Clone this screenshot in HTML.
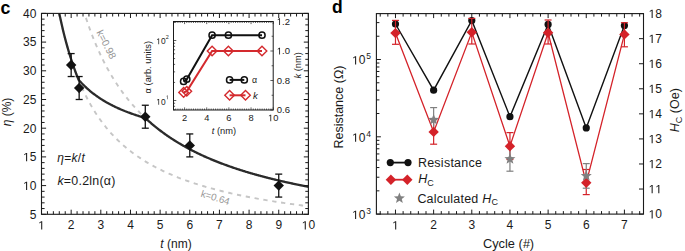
<!DOCTYPE html>
<html><head><meta charset="utf-8"><style>
html,body{margin:0;padding:0;background:#fff;}
svg{display:block;font-family:"Liberation Sans", sans-serif;}
</style></head><body>
<svg width="685" height="251" viewBox="0 0 685 251">
<rect width="685" height="251" fill="#fff"/>
<polyline points="84.5,13.4 85.62,16.88 86.74,20.26 87.86,23.54 88.98,26.73 90.1,29.82 91.22,32.83 92.34,35.75 93.46,38.6 94.58,41.36 95.7,44.05 96.82,46.68 97.93,49.23 99.05,51.72 100.17,54.14 101.29,56.5 102.41,58.81 103.53,61.06 104.65,63.25 105.77,65.39 106.89,67.49 108.01,69.53 109.13,71.53 110.25,73.48 111.37,75.38 112.49,77.25 113.61,79.07 114.73,80.86 115.85,82.6 116.97,84.31 118.09,85.98 119.2,87.62 120.32,89.22 121.44,90.79 122.56,92.33 123.68,93.84 124.8,95.32 125.92,96.77 127.04,98.19 128.16,99.58 129.28,100.95 130.4,102.29 131.52,103.61 132.64,104.9 133.76,106.17 134.88,107.41 136,108.63 137.12,109.84 138.24,111.02 139.36,112.17 140.48,113.31 141.59,114.43 142.71,115.53 143.83,116.61 144.95,117.68 146.07,118.72 147.19,119.75 148.31,120.76 149.43,121.75 150.55,122.73 151.67,123.7 152.79,124.64 153.91,125.58 155.03,126.49 156.15,127.4 157.27,128.29 158.39,129.16 159.51,130.03 160.63,130.88 161.75,131.71 162.87,132.54 163.98,133.35 165.1,134.15 166.22,134.94 167.34,135.72 168.46,136.49 169.58,137.24 170.7,137.99 171.82,138.72 172.94,139.45 174.06,140.16 175.18,140.87 176.3,141.56 177.42,142.25 178.54,142.93 179.66,143.59 180.78,144.25 181.9,144.9 183.02,145.54 184.14,146.18 185.26,146.8 186.37,147.42 187.49,148.03 188.61,148.63 189.73,149.22 190.85,149.81 191.97,150.39 193.09,150.96 194.21,151.53 195.33,152.08 196.45,152.64 197.57,153.18 198.69,153.72 199.81,154.25 200.93,154.78 202.05,155.29 203.17,155.81 204.29,156.32 205.41,156.82 206.53,157.31 207.65,157.8 208.76,158.29 209.88,158.77 211,159.24 212.12,159.71 213.24,160.17 214.36,160.63 215.48,161.08 216.6,161.53 217.72,161.97 218.84,162.41 219.96,162.84 221.08,163.27 222.2,163.7 223.32,164.12 224.44,164.53 225.56,164.94 226.68,165.35 227.8,165.75 228.92,166.15 230.04,166.54 231.15,166.93 232.27,167.32 233.39,167.7 234.51,168.08 235.63,168.46 236.75,168.83 237.87,169.2 238.99,169.56 240.11,169.92 241.23,170.28 242.35,170.63 243.47,170.98 244.59,171.33 245.71,171.67 246.83,172.01 247.95,172.34 249.07,172.68 250.19,173.01 251.31,173.34 252.43,173.66 253.54,173.98 254.66,174.3 255.78,174.61 256.9,174.93 258.02,175.24 259.14,175.54 260.26,175.85 261.38,176.15 262.5,176.45 263.62,176.74 264.74,177.04 265.86,177.33 266.98,177.62 268.1,177.9 269.22,178.18 270.34,178.46 271.46,178.74 272.58,179.02 273.7,179.29 274.82,179.56 275.93,179.83 277.05,180.1 278.17,180.36 279.29,180.63 280.41,180.89 281.53,181.14 282.65,181.4 283.77,181.65 284.89,181.9 286.01,182.15 287.13,182.4 288.25,182.65 289.37,182.89 290.49,183.13 291.61,183.37 292.73,183.61 293.85,183.84 294.97,184.08 296.09,184.31 297.21,184.54 298.32,184.77 299.44,185 300.56,185.22 301.68,185.44 302.8,185.67 303.92,185.89 305.04,186.1 306.16,186.32 307.28,186.53 308.4,186.75" fill="none" stroke="#c6c6c6" stroke-width="1.9" stroke-dasharray="4.3 4.660000000000001" stroke-dashoffset="4.22"/>
<polyline points="59.29,13.4 60.54,19.27 61.78,24.85 63.03,30.16 64.28,35.22 65.52,40.04 66.77,44.64 68.01,49.04 69.26,53.25 70.5,57.28 71.75,61.14 72.99,64.84 74.24,68.4 75.49,71.82 76.73,75.1 77.98,78.26 79.22,81.31 80.47,84.24 81.71,87.07 82.96,89.81 84.2,92.44 85.45,94.99 86.7,97.45 87.94,99.84 89.19,102.14 90.43,104.37 91.68,106.54 92.92,108.63 94.17,110.67 95.41,112.64 96.66,114.55 97.9,116.41 99.15,118.22 100.4,119.97 101.64,121.68 102.89,123.34 104.13,124.95 105.38,126.53 106.62,128.06 107.87,129.55 109.11,131 110.36,132.42 111.61,133.8 112.85,135.14 114.1,136.46 115.34,137.74 116.59,138.99 117.83,140.21 119.08,141.41 120.32,142.57 121.57,143.71 122.82,144.83 124.06,145.92 125.31,146.98 126.55,148.03 127.8,149.05 129.04,150.04 130.29,151.02 131.53,151.98 132.78,152.92 134.03,153.83 135.27,154.73 136.52,155.62 137.76,156.48 139.01,157.33 140.25,158.16 141.5,158.97 142.74,159.77 143.99,160.56 145.24,161.33 146.48,162.08 147.73,162.83 148.97,163.55 150.22,164.27 151.46,164.97 152.71,165.66 153.95,166.34 155.2,167 156.44,167.66 157.69,168.3 158.94,168.94 160.18,169.56 161.43,170.17 162.67,170.77 163.92,171.36 165.16,171.94 166.41,172.52 167.65,173.08 168.9,173.63 170.15,174.18 171.39,174.72 172.64,175.25 173.88,175.77 175.13,176.28 176.37,176.79 177.62,177.28 178.86,177.77 180.11,178.26 181.36,178.73 182.6,179.2 183.85,179.66 185.09,180.12 186.34,180.57 187.58,181.01 188.83,181.45 190.07,181.88 191.32,182.3 192.57,182.72 193.81,183.13 195.06,183.54 196.3,183.94 197.55,184.34 198.79,184.73 200.04,185.11 201.28,185.49 202.53,185.87 203.78,186.24 205.02,186.6 206.27,186.97 207.51,187.32 208.76,187.67 210,188.02 211.25,188.37 212.49,188.7 213.74,189.04 214.98,189.37 216.23,189.7 217.48,190.02 218.72,190.34 219.97,190.65 221.21,190.97 222.46,191.27 223.7,191.58 224.95,191.88 226.19,192.18 227.44,192.47 228.69,192.76 229.93,193.05 231.18,193.33 232.42,193.61 233.67,193.89 234.91,194.16 236.16,194.43 237.4,194.7 238.65,194.97 239.9,195.23 241.14,195.49 242.39,195.75 243.63,196 244.88,196.25 246.12,196.5 247.37,196.74 248.61,196.99 249.86,197.23 251.11,197.47 252.35,197.7 253.6,197.94 254.84,198.17 256.09,198.4 257.33,198.62 258.58,198.85 259.82,199.07 261.07,199.29 262.32,199.5 263.56,199.72 264.81,199.93 266.05,200.14 267.3,200.35 268.54,200.56 269.79,200.77 271.03,200.97 272.28,201.17 273.53,201.37 274.77,201.57 276.02,201.76 277.26,201.95 278.51,202.15 279.75,202.34 281,202.52 282.24,202.71 283.49,202.9 284.73,203.08 285.98,203.26 287.23,203.44 288.47,203.62 289.72,203.79 290.96,203.97 292.21,204.14 293.45,204.31 294.7,204.48 295.94,204.65 297.19,204.82 298.44,204.99 299.68,205.15 300.93,205.31 302.17,205.48 303.42,205.64 304.66,205.8 305.91,205.95 307.15,206.11 308.4,206.26" fill="none" stroke="#c6c6c6" stroke-width="1.9" stroke-dasharray="4.3 4.660000000000001" stroke-dashoffset="3.24"/>
<polyline points="59.29,13.4 59.92,16.37 60.54,19.27 61.16,22.1 61.78,24.85 62.41,27.54 63.03,30.16 63.65,32.72 64.28,35.22 64.9,37.66 65.52,40.04 66.14,42.37 66.77,44.64 67.39,46.87 68.01,49.04 68.63,51.17 69.26,53.25 69.88,55.28 70.5,57.28 71.13,59.23 71.75,61.14 72.37,63.01 72.99,64.84 73.62,66.64 74.24,68.4 74.86,70.12 75.49,71.82 76.11,73.48 76.73,75.1 77.35,76.7 77.98,78.26 78.6,79.76 79.22,80.47 79.84,81.16 80.47,81.85 81.09,82.51 81.71,83.17 82.34,83.82 82.96,84.45 83.58,85.08 84.2,85.69 84.83,86.29 85.45,86.88 86.07,87.46 86.7,88.04 87.32,88.6 87.94,89.15 88.56,89.7 89.19,90.23 89.81,90.76 90.43,91.28 91.05,91.79 91.68,92.29 92.3,92.79 92.92,93.28 93.55,93.76 94.17,94.23 94.79,94.7 95.41,95.16 96.04,95.61 96.66,96.05 97.28,96.49 97.9,96.92 98.53,97.35 99.15,97.77 99.77,98.18 100.4,98.59 101.02,99 101.64,99.39 102.26,99.78 102.89,100.17 103.51,100.55 104.13,100.93 104.76,101.3 105.38,101.66 106,102.03 106.62,102.38 107.25,102.73 107.87,103.08 108.49,103.42 109.11,103.76 109.74,104.1 110.36,104.43 110.98,104.75 111.61,105.07 112.23,105.39 112.85,105.7 113.47,106.01 114.1,106.32 114.72,106.62 115.34,106.92 115.97,107.22 116.59,107.51 117.21,107.8 117.83,108.08 118.46,108.36 119.08,108.64 119.7,108.92 120.32,109.19 120.95,109.46 121.57,109.72 122.19,109.98 122.82,110.24 123.44,110.5 124.06,110.75 124.68,111.01 125.31,111.25 125.93,111.5 126.55,111.74 127.17,111.98 127.8,112.22 128.42,112.46 129.04,112.69 129.67,112.92 130.29,113.15 130.91,113.37 131.53,113.6 132.16,113.82 132.78,114.04 133.4,114.25 134.03,114.47 134.65,114.68 135.27,114.89 135.89,115.1 136.52,115.3 137.14,115.5 137.76,115.71 138.38,115.91 139.01,116.1 139.63,116.3 140.25,116.49 140.88,116.69 141.5,116.88 142.12,117.06 142.74,117.25 143.37,117.43 143.99,117.62 144.61,117.8 145.24,117.98 145.86,118.52 146.48,119.1 147.1,119.67 147.73,120.23 148.35,120.79 148.97,121.35 149.59,121.9 150.22,122.44 150.84,122.98 151.46,123.52 152.09,124.05 152.71,124.57 153.33,125.1 153.95,125.61 154.58,126.12 155.2,126.63 155.82,127.14 156.44,127.63 157.07,128.13 157.69,128.62 158.31,129.11 158.94,129.59 159.56,130.07 160.18,130.54 160.8,131.01 161.43,131.48 162.05,131.94 162.67,132.4 163.3,132.85 163.92,133.3 164.54,133.75 165.16,134.2 165.79,134.64 166.41,135.07 167.03,135.51 167.65,135.93 168.28,136.36 168.9,136.78 169.52,137.2 170.15,137.62 170.77,138.03 171.39,138.44 172.01,138.85 172.64,139.25 173.26,139.65 173.88,140.05 174.51,140.44 175.13,140.84 175.75,141.22 176.37,141.61 177,141.99 177.62,142.37 178.24,142.75 178.86,143.12 179.49,143.49 180.11,143.86 180.73,144.23 181.36,144.59 181.98,144.95 182.6,145.31 183.22,145.66 183.85,146.01 184.47,146.36 185.09,146.71 185.71,147.06 186.34,147.4 186.96,147.74 187.58,148.08 188.21,148.41 188.83,148.74 189.45,149.07 190.07,149.4 190.7,149.73 191.32,150.05 191.94,150.37 192.57,150.69 193.19,151.01 193.81,151.32 194.43,151.64 195.06,151.95 195.68,152.26 196.3,152.56 196.92,152.87 197.55,153.17 198.17,153.47 198.79,153.77 199.42,154.06 200.04,154.36 200.66,154.65 201.28,154.94 201.91,155.23 202.53,155.52 203.15,155.8 203.78,156.08 204.4,156.37 205.02,156.64 205.64,156.92 206.27,157.2 206.89,157.47 207.51,157.74 208.13,158.01 208.76,158.28 209.38,158.55 210,158.82 210.63,159.08 211.25,159.34 211.87,159.6 212.49,159.86 213.12,160.12 213.74,160.37 214.36,160.63 214.98,160.88 215.61,161.13 216.23,161.38 216.85,161.63 217.48,161.88 218.1,162.12 218.72,162.36 219.34,162.61 219.97,162.85 220.59,163.09 221.21,163.32 221.84,163.56 222.46,163.79 223.08,164.03 223.7,164.26 224.33,164.49 224.95,164.72 225.57,164.95 226.19,165.17 226.82,165.4 227.44,165.62 228.06,165.85 228.69,166.07 229.31,166.29 229.93,166.51 230.55,166.73 231.18,166.94 231.8,167.16 232.42,167.37 233.05,167.59 233.67,167.8 234.29,168.01 234.91,168.22 235.54,168.42 236.16,168.63 236.78,168.84 237.4,169.04 238.03,169.25 238.65,169.45 239.27,169.65 239.9,169.85 240.52,170.05 241.14,170.25 241.76,170.44 242.39,170.64 243.01,170.84 243.63,171.03 244.26,171.22 244.88,171.41 245.5,171.61 246.12,171.79 246.75,171.98 247.37,172.17 247.99,172.36 248.61,172.54 249.24,172.73 249.86,172.91 250.48,173.1 251.11,173.28 251.73,173.46 252.35,173.64 252.97,173.82 253.6,174 254.22,174.17 254.84,174.35 255.46,174.53 256.09,174.7 256.71,174.87 257.33,175.05 257.96,175.22 258.58,175.39 259.2,175.56 259.82,175.73 260.45,175.9 261.07,176.07 261.69,176.23 262.32,176.4 262.94,176.56 263.56,176.73 264.18,176.89 264.81,177.05 265.43,177.22 266.05,177.38 266.67,177.54 267.3,177.7 267.92,177.86 268.54,178.01 269.17,178.17 269.79,178.33 270.41,178.48 271.03,178.64 271.66,178.79 272.28,178.95 272.9,179.1 273.53,179.25 274.15,179.4 274.77,179.55 275.39,179.7 276.02,179.85 276.64,180 277.26,180.15 277.88,180.3 278.51,180.44 279.13,180.59 279.75,180.73 280.38,180.88 281,181.02 281.62,181.16 282.24,181.31 282.87,181.45 283.49,181.59 284.11,181.73 284.73,181.87 285.36,182.01 285.98,182.15 286.6,182.29 287.23,182.42 287.85,182.56 288.47,182.7 289.09,182.83 289.72,182.97 290.34,183.1 290.96,183.23 291.59,183.37 292.21,183.5 292.83,183.63 293.45,183.76 294.08,183.89 294.7,184.02 295.32,184.15 295.94,184.28 296.57,184.41 297.19,184.54 297.81,184.67 298.44,184.79 299.06,184.92 299.68,185.04 300.3,185.17 300.93,185.29 301.55,185.42 302.17,185.54 302.8,185.66 303.42,185.79 304.04,185.91 304.66,186.03 305.29,186.15 305.91,186.27 306.53,186.39 307.15,186.51 307.78,186.63 308.4,186.75" fill="none" stroke="#2b2b2b" stroke-width="2.3" stroke-linejoin="round"/>
<text x="0" y="0" font-size="10.2" text-anchor="middle" fill="#959595" transform="translate(106.4,44.4) rotate(63)" dominant-baseline="central">k=0.98</text>
<text x="0" y="0" font-size="9.8" text-anchor="middle" fill="#959595" transform="translate(215.4,197.4) rotate(17)" dominant-baseline="central">k=0.64</text>
<line x1="71.16" y1="53.58" x2="71.16" y2="76.54" stroke="#111" stroke-width="1.3" />
<line x1="67.66" y1="53.58" x2="74.66" y2="53.58" stroke="#111" stroke-width="1.3" />
<line x1="67.66" y1="76.54" x2="74.66" y2="76.54" stroke="#111" stroke-width="1.3" />
<line x1="79.16" y1="76.54" x2="79.16" y2="99.5" stroke="#111" stroke-width="1.3" />
<line x1="75.66" y1="76.54" x2="82.66" y2="76.54" stroke="#111" stroke-width="1.3" />
<line x1="75.66" y1="99.5" x2="82.66" y2="99.5" stroke="#111" stroke-width="1.3" />
<line x1="145.29" y1="105.24" x2="145.29" y2="128.2" stroke="#111" stroke-width="1.3" />
<line x1="141.79" y1="105.24" x2="148.79" y2="105.24" stroke="#111" stroke-width="1.3" />
<line x1="141.79" y1="128.2" x2="148.79" y2="128.2" stroke="#111" stroke-width="1.3" />
<line x1="189.78" y1="133.94" x2="189.78" y2="156.9" stroke="#111" stroke-width="1.3" />
<line x1="186.28" y1="133.94" x2="193.28" y2="133.94" stroke="#111" stroke-width="1.3" />
<line x1="186.28" y1="156.9" x2="193.28" y2="156.9" stroke="#111" stroke-width="1.3" />
<line x1="278.74" y1="174.12" x2="278.74" y2="197.08" stroke="#111" stroke-width="1.3" />
<line x1="275.24" y1="174.12" x2="282.24" y2="174.12" stroke="#111" stroke-width="1.3" />
<line x1="275.24" y1="197.08" x2="282.24" y2="197.08" stroke="#111" stroke-width="1.3" />
<path d="M71.16,59.86 L76.36,65.06 L71.16,70.26 L65.96,65.06 Z" fill="#111"/>
<path d="M79.16,82.82 L84.36,88.02 L79.16,93.22 L73.96,88.02 Z" fill="#111"/>
<path d="M145.29,111.52 L150.49,116.72 L145.29,121.92 L140.09,116.72 Z" fill="#111"/>
<path d="M189.78,140.22 L194.98,145.42 L189.78,150.62 L184.58,145.42 Z" fill="#111"/>
<path d="M278.74,180.4 L283.94,185.6 L278.74,190.8 L273.54,185.6 Z" fill="#111"/>
<rect x="41.5" y="13.4" width="266.9" height="200.9" fill="none" stroke="#1a1a1a" stroke-width="1.1"/>
<line x1="41.5" y1="214.3" x2="41.5" y2="209.7" stroke="#1a1a1a" stroke-width="1" />
<line x1="41.5" y1="13.4" x2="41.5" y2="18" stroke="#1a1a1a" stroke-width="1" />
<line x1="47.43" y1="214.3" x2="47.43" y2="211.2" stroke="#1a1a1a" stroke-width="1" />
<line x1="47.43" y1="13.4" x2="47.43" y2="16.5" stroke="#1a1a1a" stroke-width="1" />
<line x1="53.36" y1="214.3" x2="53.36" y2="211.2" stroke="#1a1a1a" stroke-width="1" />
<line x1="53.36" y1="13.4" x2="53.36" y2="16.5" stroke="#1a1a1a" stroke-width="1" />
<line x1="59.29" y1="214.3" x2="59.29" y2="211.2" stroke="#1a1a1a" stroke-width="1" />
<line x1="59.29" y1="13.4" x2="59.29" y2="16.5" stroke="#1a1a1a" stroke-width="1" />
<line x1="65.22" y1="214.3" x2="65.22" y2="211.2" stroke="#1a1a1a" stroke-width="1" />
<line x1="65.22" y1="13.4" x2="65.22" y2="16.5" stroke="#1a1a1a" stroke-width="1" />
<line x1="71.16" y1="214.3" x2="71.16" y2="209.7" stroke="#1a1a1a" stroke-width="1" />
<line x1="71.16" y1="13.4" x2="71.16" y2="18" stroke="#1a1a1a" stroke-width="1" />
<line x1="77.09" y1="214.3" x2="77.09" y2="211.2" stroke="#1a1a1a" stroke-width="1" />
<line x1="77.09" y1="13.4" x2="77.09" y2="16.5" stroke="#1a1a1a" stroke-width="1" />
<line x1="83.02" y1="214.3" x2="83.02" y2="211.2" stroke="#1a1a1a" stroke-width="1" />
<line x1="83.02" y1="13.4" x2="83.02" y2="16.5" stroke="#1a1a1a" stroke-width="1" />
<line x1="88.95" y1="214.3" x2="88.95" y2="211.2" stroke="#1a1a1a" stroke-width="1" />
<line x1="88.95" y1="13.4" x2="88.95" y2="16.5" stroke="#1a1a1a" stroke-width="1" />
<line x1="94.88" y1="214.3" x2="94.88" y2="211.2" stroke="#1a1a1a" stroke-width="1" />
<line x1="94.88" y1="13.4" x2="94.88" y2="16.5" stroke="#1a1a1a" stroke-width="1" />
<line x1="100.81" y1="214.3" x2="100.81" y2="209.7" stroke="#1a1a1a" stroke-width="1" />
<line x1="100.81" y1="13.4" x2="100.81" y2="18" stroke="#1a1a1a" stroke-width="1" />
<line x1="106.74" y1="214.3" x2="106.74" y2="211.2" stroke="#1a1a1a" stroke-width="1" />
<line x1="106.74" y1="13.4" x2="106.74" y2="16.5" stroke="#1a1a1a" stroke-width="1" />
<line x1="112.67" y1="214.3" x2="112.67" y2="211.2" stroke="#1a1a1a" stroke-width="1" />
<line x1="112.67" y1="13.4" x2="112.67" y2="16.5" stroke="#1a1a1a" stroke-width="1" />
<line x1="118.6" y1="214.3" x2="118.6" y2="211.2" stroke="#1a1a1a" stroke-width="1" />
<line x1="118.6" y1="13.4" x2="118.6" y2="16.5" stroke="#1a1a1a" stroke-width="1" />
<line x1="124.54" y1="214.3" x2="124.54" y2="211.2" stroke="#1a1a1a" stroke-width="1" />
<line x1="124.54" y1="13.4" x2="124.54" y2="16.5" stroke="#1a1a1a" stroke-width="1" />
<line x1="130.47" y1="214.3" x2="130.47" y2="209.7" stroke="#1a1a1a" stroke-width="1" />
<line x1="130.47" y1="13.4" x2="130.47" y2="18" stroke="#1a1a1a" stroke-width="1" />
<line x1="136.4" y1="214.3" x2="136.4" y2="211.2" stroke="#1a1a1a" stroke-width="1" />
<line x1="136.4" y1="13.4" x2="136.4" y2="16.5" stroke="#1a1a1a" stroke-width="1" />
<line x1="142.33" y1="214.3" x2="142.33" y2="211.2" stroke="#1a1a1a" stroke-width="1" />
<line x1="142.33" y1="13.4" x2="142.33" y2="16.5" stroke="#1a1a1a" stroke-width="1" />
<line x1="148.26" y1="214.3" x2="148.26" y2="211.2" stroke="#1a1a1a" stroke-width="1" />
<line x1="148.26" y1="13.4" x2="148.26" y2="16.5" stroke="#1a1a1a" stroke-width="1" />
<line x1="154.19" y1="214.3" x2="154.19" y2="211.2" stroke="#1a1a1a" stroke-width="1" />
<line x1="154.19" y1="13.4" x2="154.19" y2="16.5" stroke="#1a1a1a" stroke-width="1" />
<line x1="160.12" y1="214.3" x2="160.12" y2="209.7" stroke="#1a1a1a" stroke-width="1" />
<line x1="160.12" y1="13.4" x2="160.12" y2="18" stroke="#1a1a1a" stroke-width="1" />
<line x1="166.05" y1="214.3" x2="166.05" y2="211.2" stroke="#1a1a1a" stroke-width="1" />
<line x1="166.05" y1="13.4" x2="166.05" y2="16.5" stroke="#1a1a1a" stroke-width="1" />
<line x1="171.98" y1="214.3" x2="171.98" y2="211.2" stroke="#1a1a1a" stroke-width="1" />
<line x1="171.98" y1="13.4" x2="171.98" y2="16.5" stroke="#1a1a1a" stroke-width="1" />
<line x1="177.92" y1="214.3" x2="177.92" y2="211.2" stroke="#1a1a1a" stroke-width="1" />
<line x1="177.92" y1="13.4" x2="177.92" y2="16.5" stroke="#1a1a1a" stroke-width="1" />
<line x1="183.85" y1="214.3" x2="183.85" y2="211.2" stroke="#1a1a1a" stroke-width="1" />
<line x1="183.85" y1="13.4" x2="183.85" y2="16.5" stroke="#1a1a1a" stroke-width="1" />
<line x1="189.78" y1="214.3" x2="189.78" y2="209.7" stroke="#1a1a1a" stroke-width="1" />
<line x1="189.78" y1="13.4" x2="189.78" y2="18" stroke="#1a1a1a" stroke-width="1" />
<line x1="195.71" y1="214.3" x2="195.71" y2="211.2" stroke="#1a1a1a" stroke-width="1" />
<line x1="195.71" y1="13.4" x2="195.71" y2="16.5" stroke="#1a1a1a" stroke-width="1" />
<line x1="201.64" y1="214.3" x2="201.64" y2="211.2" stroke="#1a1a1a" stroke-width="1" />
<line x1="201.64" y1="13.4" x2="201.64" y2="16.5" stroke="#1a1a1a" stroke-width="1" />
<line x1="207.57" y1="214.3" x2="207.57" y2="211.2" stroke="#1a1a1a" stroke-width="1" />
<line x1="207.57" y1="13.4" x2="207.57" y2="16.5" stroke="#1a1a1a" stroke-width="1" />
<line x1="213.5" y1="214.3" x2="213.5" y2="211.2" stroke="#1a1a1a" stroke-width="1" />
<line x1="213.5" y1="13.4" x2="213.5" y2="16.5" stroke="#1a1a1a" stroke-width="1" />
<line x1="219.43" y1="214.3" x2="219.43" y2="209.7" stroke="#1a1a1a" stroke-width="1" />
<line x1="219.43" y1="13.4" x2="219.43" y2="18" stroke="#1a1a1a" stroke-width="1" />
<line x1="225.36" y1="214.3" x2="225.36" y2="211.2" stroke="#1a1a1a" stroke-width="1" />
<line x1="225.36" y1="13.4" x2="225.36" y2="16.5" stroke="#1a1a1a" stroke-width="1" />
<line x1="231.3" y1="214.3" x2="231.3" y2="211.2" stroke="#1a1a1a" stroke-width="1" />
<line x1="231.3" y1="13.4" x2="231.3" y2="16.5" stroke="#1a1a1a" stroke-width="1" />
<line x1="237.23" y1="214.3" x2="237.23" y2="211.2" stroke="#1a1a1a" stroke-width="1" />
<line x1="237.23" y1="13.4" x2="237.23" y2="16.5" stroke="#1a1a1a" stroke-width="1" />
<line x1="243.16" y1="214.3" x2="243.16" y2="211.2" stroke="#1a1a1a" stroke-width="1" />
<line x1="243.16" y1="13.4" x2="243.16" y2="16.5" stroke="#1a1a1a" stroke-width="1" />
<line x1="249.09" y1="214.3" x2="249.09" y2="209.7" stroke="#1a1a1a" stroke-width="1" />
<line x1="249.09" y1="13.4" x2="249.09" y2="18" stroke="#1a1a1a" stroke-width="1" />
<line x1="255.02" y1="214.3" x2="255.02" y2="211.2" stroke="#1a1a1a" stroke-width="1" />
<line x1="255.02" y1="13.4" x2="255.02" y2="16.5" stroke="#1a1a1a" stroke-width="1" />
<line x1="260.95" y1="214.3" x2="260.95" y2="211.2" stroke="#1a1a1a" stroke-width="1" />
<line x1="260.95" y1="13.4" x2="260.95" y2="16.5" stroke="#1a1a1a" stroke-width="1" />
<line x1="266.88" y1="214.3" x2="266.88" y2="211.2" stroke="#1a1a1a" stroke-width="1" />
<line x1="266.88" y1="13.4" x2="266.88" y2="16.5" stroke="#1a1a1a" stroke-width="1" />
<line x1="272.81" y1="214.3" x2="272.81" y2="211.2" stroke="#1a1a1a" stroke-width="1" />
<line x1="272.81" y1="13.4" x2="272.81" y2="16.5" stroke="#1a1a1a" stroke-width="1" />
<line x1="278.74" y1="214.3" x2="278.74" y2="209.7" stroke="#1a1a1a" stroke-width="1" />
<line x1="278.74" y1="13.4" x2="278.74" y2="18" stroke="#1a1a1a" stroke-width="1" />
<line x1="284.68" y1="214.3" x2="284.68" y2="211.2" stroke="#1a1a1a" stroke-width="1" />
<line x1="284.68" y1="13.4" x2="284.68" y2="16.5" stroke="#1a1a1a" stroke-width="1" />
<line x1="290.61" y1="214.3" x2="290.61" y2="211.2" stroke="#1a1a1a" stroke-width="1" />
<line x1="290.61" y1="13.4" x2="290.61" y2="16.5" stroke="#1a1a1a" stroke-width="1" />
<line x1="296.54" y1="214.3" x2="296.54" y2="211.2" stroke="#1a1a1a" stroke-width="1" />
<line x1="296.54" y1="13.4" x2="296.54" y2="16.5" stroke="#1a1a1a" stroke-width="1" />
<line x1="302.47" y1="214.3" x2="302.47" y2="211.2" stroke="#1a1a1a" stroke-width="1" />
<line x1="302.47" y1="13.4" x2="302.47" y2="16.5" stroke="#1a1a1a" stroke-width="1" />
<line x1="308.4" y1="214.3" x2="308.4" y2="209.7" stroke="#1a1a1a" stroke-width="1" />
<line x1="308.4" y1="13.4" x2="308.4" y2="18" stroke="#1a1a1a" stroke-width="1" />
<line x1="41.5" y1="214.3" x2="46.1" y2="214.3" stroke="#1a1a1a" stroke-width="1" />
<line x1="308.4" y1="214.3" x2="303.8" y2="214.3" stroke="#1a1a1a" stroke-width="1" />
<line x1="41.5" y1="208.56" x2="44.6" y2="208.56" stroke="#1a1a1a" stroke-width="1" />
<line x1="308.4" y1="208.56" x2="305.3" y2="208.56" stroke="#1a1a1a" stroke-width="1" />
<line x1="41.5" y1="202.82" x2="44.6" y2="202.82" stroke="#1a1a1a" stroke-width="1" />
<line x1="308.4" y1="202.82" x2="305.3" y2="202.82" stroke="#1a1a1a" stroke-width="1" />
<line x1="41.5" y1="197.08" x2="44.6" y2="197.08" stroke="#1a1a1a" stroke-width="1" />
<line x1="308.4" y1="197.08" x2="305.3" y2="197.08" stroke="#1a1a1a" stroke-width="1" />
<line x1="41.5" y1="191.34" x2="44.6" y2="191.34" stroke="#1a1a1a" stroke-width="1" />
<line x1="308.4" y1="191.34" x2="305.3" y2="191.34" stroke="#1a1a1a" stroke-width="1" />
<line x1="41.5" y1="185.6" x2="46.1" y2="185.6" stroke="#1a1a1a" stroke-width="1" />
<line x1="308.4" y1="185.6" x2="303.8" y2="185.6" stroke="#1a1a1a" stroke-width="1" />
<line x1="41.5" y1="179.86" x2="44.6" y2="179.86" stroke="#1a1a1a" stroke-width="1" />
<line x1="308.4" y1="179.86" x2="305.3" y2="179.86" stroke="#1a1a1a" stroke-width="1" />
<line x1="41.5" y1="174.12" x2="44.6" y2="174.12" stroke="#1a1a1a" stroke-width="1" />
<line x1="308.4" y1="174.12" x2="305.3" y2="174.12" stroke="#1a1a1a" stroke-width="1" />
<line x1="41.5" y1="168.38" x2="44.6" y2="168.38" stroke="#1a1a1a" stroke-width="1" />
<line x1="308.4" y1="168.38" x2="305.3" y2="168.38" stroke="#1a1a1a" stroke-width="1" />
<line x1="41.5" y1="162.64" x2="44.6" y2="162.64" stroke="#1a1a1a" stroke-width="1" />
<line x1="308.4" y1="162.64" x2="305.3" y2="162.64" stroke="#1a1a1a" stroke-width="1" />
<line x1="41.5" y1="156.9" x2="46.1" y2="156.9" stroke="#1a1a1a" stroke-width="1" />
<line x1="308.4" y1="156.9" x2="303.8" y2="156.9" stroke="#1a1a1a" stroke-width="1" />
<line x1="41.5" y1="151.16" x2="44.6" y2="151.16" stroke="#1a1a1a" stroke-width="1" />
<line x1="308.4" y1="151.16" x2="305.3" y2="151.16" stroke="#1a1a1a" stroke-width="1" />
<line x1="41.5" y1="145.42" x2="44.6" y2="145.42" stroke="#1a1a1a" stroke-width="1" />
<line x1="308.4" y1="145.42" x2="305.3" y2="145.42" stroke="#1a1a1a" stroke-width="1" />
<line x1="41.5" y1="139.68" x2="44.6" y2="139.68" stroke="#1a1a1a" stroke-width="1" />
<line x1="308.4" y1="139.68" x2="305.3" y2="139.68" stroke="#1a1a1a" stroke-width="1" />
<line x1="41.5" y1="133.94" x2="44.6" y2="133.94" stroke="#1a1a1a" stroke-width="1" />
<line x1="308.4" y1="133.94" x2="305.3" y2="133.94" stroke="#1a1a1a" stroke-width="1" />
<line x1="41.5" y1="128.2" x2="46.1" y2="128.2" stroke="#1a1a1a" stroke-width="1" />
<line x1="308.4" y1="128.2" x2="303.8" y2="128.2" stroke="#1a1a1a" stroke-width="1" />
<line x1="41.5" y1="122.46" x2="44.6" y2="122.46" stroke="#1a1a1a" stroke-width="1" />
<line x1="308.4" y1="122.46" x2="305.3" y2="122.46" stroke="#1a1a1a" stroke-width="1" />
<line x1="41.5" y1="116.72" x2="44.6" y2="116.72" stroke="#1a1a1a" stroke-width="1" />
<line x1="308.4" y1="116.72" x2="305.3" y2="116.72" stroke="#1a1a1a" stroke-width="1" />
<line x1="41.5" y1="110.98" x2="44.6" y2="110.98" stroke="#1a1a1a" stroke-width="1" />
<line x1="308.4" y1="110.98" x2="305.3" y2="110.98" stroke="#1a1a1a" stroke-width="1" />
<line x1="41.5" y1="105.24" x2="44.6" y2="105.24" stroke="#1a1a1a" stroke-width="1" />
<line x1="308.4" y1="105.24" x2="305.3" y2="105.24" stroke="#1a1a1a" stroke-width="1" />
<line x1="41.5" y1="99.5" x2="46.1" y2="99.5" stroke="#1a1a1a" stroke-width="1" />
<line x1="308.4" y1="99.5" x2="303.8" y2="99.5" stroke="#1a1a1a" stroke-width="1" />
<line x1="41.5" y1="93.76" x2="44.6" y2="93.76" stroke="#1a1a1a" stroke-width="1" />
<line x1="308.4" y1="93.76" x2="305.3" y2="93.76" stroke="#1a1a1a" stroke-width="1" />
<line x1="41.5" y1="88.02" x2="44.6" y2="88.02" stroke="#1a1a1a" stroke-width="1" />
<line x1="308.4" y1="88.02" x2="305.3" y2="88.02" stroke="#1a1a1a" stroke-width="1" />
<line x1="41.5" y1="82.28" x2="44.6" y2="82.28" stroke="#1a1a1a" stroke-width="1" />
<line x1="308.4" y1="82.28" x2="305.3" y2="82.28" stroke="#1a1a1a" stroke-width="1" />
<line x1="41.5" y1="76.54" x2="44.6" y2="76.54" stroke="#1a1a1a" stroke-width="1" />
<line x1="308.4" y1="76.54" x2="305.3" y2="76.54" stroke="#1a1a1a" stroke-width="1" />
<line x1="41.5" y1="70.8" x2="46.1" y2="70.8" stroke="#1a1a1a" stroke-width="1" />
<line x1="308.4" y1="70.8" x2="303.8" y2="70.8" stroke="#1a1a1a" stroke-width="1" />
<line x1="41.5" y1="65.06" x2="44.6" y2="65.06" stroke="#1a1a1a" stroke-width="1" />
<line x1="308.4" y1="65.06" x2="305.3" y2="65.06" stroke="#1a1a1a" stroke-width="1" />
<line x1="41.5" y1="59.32" x2="44.6" y2="59.32" stroke="#1a1a1a" stroke-width="1" />
<line x1="308.4" y1="59.32" x2="305.3" y2="59.32" stroke="#1a1a1a" stroke-width="1" />
<line x1="41.5" y1="53.58" x2="44.6" y2="53.58" stroke="#1a1a1a" stroke-width="1" />
<line x1="308.4" y1="53.58" x2="305.3" y2="53.58" stroke="#1a1a1a" stroke-width="1" />
<line x1="41.5" y1="47.84" x2="44.6" y2="47.84" stroke="#1a1a1a" stroke-width="1" />
<line x1="308.4" y1="47.84" x2="305.3" y2="47.84" stroke="#1a1a1a" stroke-width="1" />
<line x1="41.5" y1="42.1" x2="46.1" y2="42.1" stroke="#1a1a1a" stroke-width="1" />
<line x1="308.4" y1="42.1" x2="303.8" y2="42.1" stroke="#1a1a1a" stroke-width="1" />
<line x1="41.5" y1="36.36" x2="44.6" y2="36.36" stroke="#1a1a1a" stroke-width="1" />
<line x1="308.4" y1="36.36" x2="305.3" y2="36.36" stroke="#1a1a1a" stroke-width="1" />
<line x1="41.5" y1="30.62" x2="44.6" y2="30.62" stroke="#1a1a1a" stroke-width="1" />
<line x1="308.4" y1="30.62" x2="305.3" y2="30.62" stroke="#1a1a1a" stroke-width="1" />
<line x1="41.5" y1="24.88" x2="44.6" y2="24.88" stroke="#1a1a1a" stroke-width="1" />
<line x1="308.4" y1="24.88" x2="305.3" y2="24.88" stroke="#1a1a1a" stroke-width="1" />
<line x1="41.5" y1="19.14" x2="44.6" y2="19.14" stroke="#1a1a1a" stroke-width="1" />
<line x1="308.4" y1="19.14" x2="305.3" y2="19.14" stroke="#1a1a1a" stroke-width="1" />
<line x1="41.5" y1="13.4" x2="46.1" y2="13.4" stroke="#1a1a1a" stroke-width="1" />
<line x1="308.4" y1="13.4" x2="303.8" y2="13.4" stroke="#1a1a1a" stroke-width="1" />
<path d="M515,0L696,0L696,1409L530,1409L197,1180L197,1010L515,1237Z" fill="#1a1a1a" transform="translate(38.16,229.4) scale(0.005859,-0.005859)"/>
<text x="67.82" y="229.4" font-size="12" fill="#1a1a1a">2</text>
<text x="97.48" y="229.4" font-size="12" fill="#1a1a1a">3</text>
<text x="127.13" y="229.4" font-size="12" fill="#1a1a1a">4</text>
<text x="156.79" y="229.4" font-size="12" fill="#1a1a1a">5</text>
<text x="186.44" y="229.4" font-size="12" fill="#1a1a1a">6</text>
<text x="216.1" y="229.4" font-size="12" fill="#1a1a1a">7</text>
<text x="245.75" y="229.4" font-size="12" fill="#1a1a1a">8</text>
<text x="275.41" y="229.4" font-size="12" fill="#1a1a1a">9</text>
<path d="M515,0L696,0L696,1409L530,1409L197,1180L197,1010L515,1237Z" fill="#1a1a1a" transform="translate(301.73,229.4) scale(0.005859,-0.005859)"/>
<text x="308.4" y="229.4" font-size="12" fill="#1a1a1a">0</text>
<text x="29.73" y="218.6" font-size="12" fill="#1a1a1a">5</text>
<path d="M515,0L696,0L696,1409L530,1409L197,1180L197,1010L515,1237Z" fill="#1a1a1a" transform="translate(23.06,189.9) scale(0.005859,-0.005859)"/>
<text x="29.73" y="189.9" font-size="12" fill="#1a1a1a">0</text>
<path d="M515,0L696,0L696,1409L530,1409L197,1180L197,1010L515,1237Z" fill="#1a1a1a" transform="translate(23.06,161.2) scale(0.005859,-0.005859)"/>
<text x="29.73" y="161.2" font-size="12" fill="#1a1a1a">5</text>
<text x="23.06" y="132.5" font-size="12" fill="#1a1a1a">20</text>
<text x="23.06" y="103.8" font-size="12" fill="#1a1a1a">25</text>
<text x="23.06" y="75.1" font-size="12" fill="#1a1a1a">30</text>
<text x="23.06" y="46.4" font-size="12" fill="#1a1a1a">35</text>
<text x="23.06" y="17.7" font-size="12" fill="#1a1a1a">40</text>
<text x="176" y="247.8" font-size="12" text-anchor="middle" fill="#1a1a1a" ><tspan font-style="italic">t</tspan> (nm)</text>
<text x="0" y="0" font-size="12" text-anchor="middle" fill="#1a1a1a" transform="translate(11.4,112) rotate(-90)"><tspan font-style="italic">η</tspan> (%)</text>
<text x="57.2" y="161.5" font-size="12" text-anchor="start" fill="#1a1a1a" letter-spacing="0.3"><tspan font-style="italic">η</tspan>=<tspan font-style="italic">k</tspan>/<tspan font-style="italic">t</tspan></text>
<text x="57.4" y="185.3" font-size="12.4" text-anchor="start" fill="#1a1a1a" letter-spacing="0.25"><tspan font-style="italic">k</tspan>=0.2ln(α)</text>
<rect x="173.5" y="21.5" width="99.7" height="88.5" fill="#fff" stroke="#1a1a1a" stroke-width="1"/>
<line x1="173.5" y1="110" x2="173.5" y2="108.5" stroke="#1a1a1a" stroke-width="0.7" />
<line x1="173.5" y1="21.5" x2="173.5" y2="23" stroke="#1a1a1a" stroke-width="0.7" />
<line x1="175.72" y1="110" x2="175.72" y2="108.5" stroke="#1a1a1a" stroke-width="0.7" />
<line x1="175.72" y1="21.5" x2="175.72" y2="23" stroke="#1a1a1a" stroke-width="0.7" />
<line x1="177.93" y1="110" x2="177.93" y2="108.5" stroke="#1a1a1a" stroke-width="0.7" />
<line x1="177.93" y1="21.5" x2="177.93" y2="23" stroke="#1a1a1a" stroke-width="0.7" />
<line x1="180.15" y1="110" x2="180.15" y2="108.5" stroke="#1a1a1a" stroke-width="0.7" />
<line x1="180.15" y1="21.5" x2="180.15" y2="23" stroke="#1a1a1a" stroke-width="0.7" />
<line x1="182.36" y1="110" x2="182.36" y2="108.5" stroke="#1a1a1a" stroke-width="0.7" />
<line x1="182.36" y1="21.5" x2="182.36" y2="23" stroke="#1a1a1a" stroke-width="0.7" />
<line x1="184.58" y1="110" x2="184.58" y2="107.4" stroke="#1a1a1a" stroke-width="0.7" />
<line x1="184.58" y1="21.5" x2="184.58" y2="24.1" stroke="#1a1a1a" stroke-width="0.7" />
<line x1="186.79" y1="110" x2="186.79" y2="108.5" stroke="#1a1a1a" stroke-width="0.7" />
<line x1="186.79" y1="21.5" x2="186.79" y2="23" stroke="#1a1a1a" stroke-width="0.7" />
<line x1="189.01" y1="110" x2="189.01" y2="108.5" stroke="#1a1a1a" stroke-width="0.7" />
<line x1="189.01" y1="21.5" x2="189.01" y2="23" stroke="#1a1a1a" stroke-width="0.7" />
<line x1="191.22" y1="110" x2="191.22" y2="108.5" stroke="#1a1a1a" stroke-width="0.7" />
<line x1="191.22" y1="21.5" x2="191.22" y2="23" stroke="#1a1a1a" stroke-width="0.7" />
<line x1="193.44" y1="110" x2="193.44" y2="108.5" stroke="#1a1a1a" stroke-width="0.7" />
<line x1="193.44" y1="21.5" x2="193.44" y2="23" stroke="#1a1a1a" stroke-width="0.7" />
<line x1="195.66" y1="110" x2="195.66" y2="108.5" stroke="#1a1a1a" stroke-width="0.7" />
<line x1="195.66" y1="21.5" x2="195.66" y2="23" stroke="#1a1a1a" stroke-width="0.7" />
<line x1="197.87" y1="110" x2="197.87" y2="108.5" stroke="#1a1a1a" stroke-width="0.7" />
<line x1="197.87" y1="21.5" x2="197.87" y2="23" stroke="#1a1a1a" stroke-width="0.7" />
<line x1="200.09" y1="110" x2="200.09" y2="108.5" stroke="#1a1a1a" stroke-width="0.7" />
<line x1="200.09" y1="21.5" x2="200.09" y2="23" stroke="#1a1a1a" stroke-width="0.7" />
<line x1="202.3" y1="110" x2="202.3" y2="108.5" stroke="#1a1a1a" stroke-width="0.7" />
<line x1="202.3" y1="21.5" x2="202.3" y2="23" stroke="#1a1a1a" stroke-width="0.7" />
<line x1="204.52" y1="110" x2="204.52" y2="108.5" stroke="#1a1a1a" stroke-width="0.7" />
<line x1="204.52" y1="21.5" x2="204.52" y2="23" stroke="#1a1a1a" stroke-width="0.7" />
<line x1="206.73" y1="110" x2="206.73" y2="107.4" stroke="#1a1a1a" stroke-width="0.7" />
<line x1="206.73" y1="21.5" x2="206.73" y2="24.1" stroke="#1a1a1a" stroke-width="0.7" />
<line x1="208.95" y1="110" x2="208.95" y2="108.5" stroke="#1a1a1a" stroke-width="0.7" />
<line x1="208.95" y1="21.5" x2="208.95" y2="23" stroke="#1a1a1a" stroke-width="0.7" />
<line x1="211.16" y1="110" x2="211.16" y2="108.5" stroke="#1a1a1a" stroke-width="0.7" />
<line x1="211.16" y1="21.5" x2="211.16" y2="23" stroke="#1a1a1a" stroke-width="0.7" />
<line x1="213.38" y1="110" x2="213.38" y2="108.5" stroke="#1a1a1a" stroke-width="0.7" />
<line x1="213.38" y1="21.5" x2="213.38" y2="23" stroke="#1a1a1a" stroke-width="0.7" />
<line x1="215.6" y1="110" x2="215.6" y2="108.5" stroke="#1a1a1a" stroke-width="0.7" />
<line x1="215.6" y1="21.5" x2="215.6" y2="23" stroke="#1a1a1a" stroke-width="0.7" />
<line x1="217.81" y1="110" x2="217.81" y2="108.5" stroke="#1a1a1a" stroke-width="0.7" />
<line x1="217.81" y1="21.5" x2="217.81" y2="23" stroke="#1a1a1a" stroke-width="0.7" />
<line x1="220.03" y1="110" x2="220.03" y2="108.5" stroke="#1a1a1a" stroke-width="0.7" />
<line x1="220.03" y1="21.5" x2="220.03" y2="23" stroke="#1a1a1a" stroke-width="0.7" />
<line x1="222.24" y1="110" x2="222.24" y2="108.5" stroke="#1a1a1a" stroke-width="0.7" />
<line x1="222.24" y1="21.5" x2="222.24" y2="23" stroke="#1a1a1a" stroke-width="0.7" />
<line x1="224.46" y1="110" x2="224.46" y2="108.5" stroke="#1a1a1a" stroke-width="0.7" />
<line x1="224.46" y1="21.5" x2="224.46" y2="23" stroke="#1a1a1a" stroke-width="0.7" />
<line x1="226.67" y1="110" x2="226.67" y2="108.5" stroke="#1a1a1a" stroke-width="0.7" />
<line x1="226.67" y1="21.5" x2="226.67" y2="23" stroke="#1a1a1a" stroke-width="0.7" />
<line x1="228.89" y1="110" x2="228.89" y2="107.4" stroke="#1a1a1a" stroke-width="0.7" />
<line x1="228.89" y1="21.5" x2="228.89" y2="24.1" stroke="#1a1a1a" stroke-width="0.7" />
<line x1="231.1" y1="110" x2="231.1" y2="108.5" stroke="#1a1a1a" stroke-width="0.7" />
<line x1="231.1" y1="21.5" x2="231.1" y2="23" stroke="#1a1a1a" stroke-width="0.7" />
<line x1="233.32" y1="110" x2="233.32" y2="108.5" stroke="#1a1a1a" stroke-width="0.7" />
<line x1="233.32" y1="21.5" x2="233.32" y2="23" stroke="#1a1a1a" stroke-width="0.7" />
<line x1="235.54" y1="110" x2="235.54" y2="108.5" stroke="#1a1a1a" stroke-width="0.7" />
<line x1="235.54" y1="21.5" x2="235.54" y2="23" stroke="#1a1a1a" stroke-width="0.7" />
<line x1="237.75" y1="110" x2="237.75" y2="108.5" stroke="#1a1a1a" stroke-width="0.7" />
<line x1="237.75" y1="21.5" x2="237.75" y2="23" stroke="#1a1a1a" stroke-width="0.7" />
<line x1="239.97" y1="110" x2="239.97" y2="108.5" stroke="#1a1a1a" stroke-width="0.7" />
<line x1="239.97" y1="21.5" x2="239.97" y2="23" stroke="#1a1a1a" stroke-width="0.7" />
<line x1="242.18" y1="110" x2="242.18" y2="108.5" stroke="#1a1a1a" stroke-width="0.7" />
<line x1="242.18" y1="21.5" x2="242.18" y2="23" stroke="#1a1a1a" stroke-width="0.7" />
<line x1="244.4" y1="110" x2="244.4" y2="108.5" stroke="#1a1a1a" stroke-width="0.7" />
<line x1="244.4" y1="21.5" x2="244.4" y2="23" stroke="#1a1a1a" stroke-width="0.7" />
<line x1="246.61" y1="110" x2="246.61" y2="108.5" stroke="#1a1a1a" stroke-width="0.7" />
<line x1="246.61" y1="21.5" x2="246.61" y2="23" stroke="#1a1a1a" stroke-width="0.7" />
<line x1="248.83" y1="110" x2="248.83" y2="108.5" stroke="#1a1a1a" stroke-width="0.7" />
<line x1="248.83" y1="21.5" x2="248.83" y2="23" stroke="#1a1a1a" stroke-width="0.7" />
<line x1="251.04" y1="110" x2="251.04" y2="107.4" stroke="#1a1a1a" stroke-width="0.7" />
<line x1="251.04" y1="21.5" x2="251.04" y2="24.1" stroke="#1a1a1a" stroke-width="0.7" />
<line x1="253.26" y1="110" x2="253.26" y2="108.5" stroke="#1a1a1a" stroke-width="0.7" />
<line x1="253.26" y1="21.5" x2="253.26" y2="23" stroke="#1a1a1a" stroke-width="0.7" />
<line x1="255.48" y1="110" x2="255.48" y2="108.5" stroke="#1a1a1a" stroke-width="0.7" />
<line x1="255.48" y1="21.5" x2="255.48" y2="23" stroke="#1a1a1a" stroke-width="0.7" />
<line x1="257.69" y1="110" x2="257.69" y2="108.5" stroke="#1a1a1a" stroke-width="0.7" />
<line x1="257.69" y1="21.5" x2="257.69" y2="23" stroke="#1a1a1a" stroke-width="0.7" />
<line x1="259.91" y1="110" x2="259.91" y2="108.5" stroke="#1a1a1a" stroke-width="0.7" />
<line x1="259.91" y1="21.5" x2="259.91" y2="23" stroke="#1a1a1a" stroke-width="0.7" />
<line x1="262.12" y1="110" x2="262.12" y2="108.5" stroke="#1a1a1a" stroke-width="0.7" />
<line x1="262.12" y1="21.5" x2="262.12" y2="23" stroke="#1a1a1a" stroke-width="0.7" />
<line x1="264.34" y1="110" x2="264.34" y2="108.5" stroke="#1a1a1a" stroke-width="0.7" />
<line x1="264.34" y1="21.5" x2="264.34" y2="23" stroke="#1a1a1a" stroke-width="0.7" />
<line x1="266.55" y1="110" x2="266.55" y2="108.5" stroke="#1a1a1a" stroke-width="0.7" />
<line x1="266.55" y1="21.5" x2="266.55" y2="23" stroke="#1a1a1a" stroke-width="0.7" />
<line x1="268.77" y1="110" x2="268.77" y2="108.5" stroke="#1a1a1a" stroke-width="0.7" />
<line x1="268.77" y1="21.5" x2="268.77" y2="23" stroke="#1a1a1a" stroke-width="0.7" />
<line x1="270.98" y1="110" x2="270.98" y2="108.5" stroke="#1a1a1a" stroke-width="0.7" />
<line x1="270.98" y1="21.5" x2="270.98" y2="23" stroke="#1a1a1a" stroke-width="0.7" />
<line x1="273.2" y1="110" x2="273.2" y2="107.4" stroke="#1a1a1a" stroke-width="0.7" />
<line x1="273.2" y1="21.5" x2="273.2" y2="24.1" stroke="#1a1a1a" stroke-width="0.7" />
<line x1="173.5" y1="109.79" x2="175.1" y2="109.79" stroke="#1a1a1a" stroke-width="0.7" />
<line x1="173.5" y1="106.31" x2="175.1" y2="106.31" stroke="#1a1a1a" stroke-width="0.7" />
<line x1="173.5" y1="103.25" x2="175.1" y2="103.25" stroke="#1a1a1a" stroke-width="0.7" />
<line x1="173.5" y1="100.5" x2="176.3" y2="100.5" stroke="#1a1a1a" stroke-width="0.7" />
<line x1="173.5" y1="82.44" x2="175.1" y2="82.44" stroke="#1a1a1a" stroke-width="0.7" />
<line x1="173.5" y1="71.87" x2="175.1" y2="71.87" stroke="#1a1a1a" stroke-width="0.7" />
<line x1="173.5" y1="64.38" x2="175.1" y2="64.38" stroke="#1a1a1a" stroke-width="0.7" />
<line x1="173.5" y1="58.56" x2="175.1" y2="58.56" stroke="#1a1a1a" stroke-width="0.7" />
<line x1="173.5" y1="53.81" x2="175.1" y2="53.81" stroke="#1a1a1a" stroke-width="0.7" />
<line x1="173.5" y1="49.79" x2="175.1" y2="49.79" stroke="#1a1a1a" stroke-width="0.7" />
<line x1="173.5" y1="46.31" x2="175.1" y2="46.31" stroke="#1a1a1a" stroke-width="0.7" />
<line x1="173.5" y1="43.25" x2="175.1" y2="43.25" stroke="#1a1a1a" stroke-width="0.7" />
<line x1="173.5" y1="40.5" x2="176.3" y2="40.5" stroke="#1a1a1a" stroke-width="0.7" />
<line x1="173.5" y1="22.44" x2="175.1" y2="22.44" stroke="#1a1a1a" stroke-width="0.7" />
<line x1="273.2" y1="110" x2="270.4" y2="110" stroke="#1a1a1a" stroke-width="0.7" />
<line x1="273.2" y1="95.25" x2="271.6" y2="95.25" stroke="#1a1a1a" stroke-width="0.7" />
<line x1="273.2" y1="80.5" x2="270.4" y2="80.5" stroke="#1a1a1a" stroke-width="0.7" />
<line x1="273.2" y1="65.75" x2="271.6" y2="65.75" stroke="#1a1a1a" stroke-width="0.7" />
<line x1="273.2" y1="51" x2="270.4" y2="51" stroke="#1a1a1a" stroke-width="0.7" />
<line x1="273.2" y1="36.25" x2="271.6" y2="36.25" stroke="#1a1a1a" stroke-width="0.7" />
<line x1="273.2" y1="21.5" x2="270.4" y2="21.5" stroke="#1a1a1a" stroke-width="0.7" />
<polyline points="183.6,92.4 186.8,91.3 212.1,51 228.4,51 262,51" fill="none" stroke="#d42a2e" stroke-width="2"/>
<polyline points="183.6,81.4 186.8,79.2 212.1,35.2 228.4,35.2 262,35.2" fill="none" stroke="#111" stroke-width="2"/>
<circle cx="183.6" cy="81.4" r="3.1" fill="none" stroke="#111" stroke-width="1.5"/>
<circle cx="186.8" cy="79.2" r="3.1" fill="none" stroke="#111" stroke-width="1.5"/>
<circle cx="212.1" cy="35.2" r="3.1" fill="none" stroke="#111" stroke-width="1.5"/>
<circle cx="228.4" cy="35.2" r="3.1" fill="none" stroke="#111" stroke-width="1.5"/>
<circle cx="262" cy="35.2" r="3.1" fill="none" stroke="#111" stroke-width="1.5"/>
<path d="M183.6,87.6 L188.4,92.4 L183.6,97.2 L178.8,92.4 Z" fill="none" stroke="#d42a2e" stroke-width="1.4"/>
<path d="M186.8,86.5 L191.6,91.3 L186.8,96.1 L182,91.3 Z" fill="none" stroke="#d42a2e" stroke-width="1.4"/>
<path d="M212.1,46.2 L216.9,51 L212.1,55.8 L207.3,51 Z" fill="none" stroke="#d42a2e" stroke-width="1.4"/>
<path d="M228.4,46.2 L233.2,51 L228.4,55.8 L223.6,51 Z" fill="none" stroke="#d42a2e" stroke-width="1.4"/>
<path d="M262,46.2 L266.8,51 L262,55.8 L257.2,51 Z" fill="none" stroke="#d42a2e" stroke-width="1.4"/>
<line x1="229.6" y1="79.9" x2="244.3" y2="79.9" stroke="#111" stroke-width="2" />
<circle cx="229.6" cy="79.9" r="3.1" fill="none" stroke="#111" stroke-width="1.5"/>
<circle cx="244.3" cy="79.9" r="3.1" fill="none" stroke="#111" stroke-width="1.5"/>
<line x1="229.6" y1="95.3" x2="245.5" y2="95.3" stroke="#d42a2e" stroke-width="2" />
<path d="M229.6,90.5 L234.4,95.3 L229.6,100.1 L224.8,95.3 Z" fill="none" stroke="#d42a2e" stroke-width="1.4"/>
<path d="M245.5,90.5 L250.3,95.3 L245.5,100.1 L240.7,95.3 Z" fill="none" stroke="#d42a2e" stroke-width="1.4"/>
<text x="251.9" y="82.6" font-size="8.8" text-anchor="start" fill="#1a1a1a" >α</text>
<text x="252.9" y="98.6" font-size="9.5" text-anchor="start" fill="#1a1a1a" ><tspan font-style="italic">k</tspan></text>
<text x="181.99" y="121.2" font-size="9.3" fill="#1a1a1a">2</text>
<text x="204.15" y="121.2" font-size="9.3" fill="#1a1a1a">4</text>
<text x="226.3" y="121.2" font-size="9.3" fill="#1a1a1a">6</text>
<text x="248.46" y="121.2" font-size="9.3" fill="#1a1a1a">8</text>
<path d="M515,0L696,0L696,1409L530,1409L197,1180L197,1010L515,1237Z" fill="#1a1a1a" transform="translate(268.03,121.2) scale(0.004541,-0.004541)"/>
<text x="273.2" y="121.2" font-size="9.3" fill="#1a1a1a">0</text>
<text x="224" y="133.8" font-size="9.3" text-anchor="middle" fill="#1a1a1a" ><tspan font-style="italic">t</tspan> (nm)</text>
<path d="M515,0L696,0L696,1409L530,1409L197,1180L197,1010L515,1237Z" fill="#1a1a1a" transform="translate(156.26,44.2) scale(0.004102,-0.004102)"/>
<text x="160.93" y="44.2" font-size="8.4" fill="#1a1a1a">0</text>
<text x="165.8" y="38.6" font-size="5.5" fill="#1a1a1a">2</text>
<path d="M515,0L696,0L696,1409L530,1409L197,1180L197,1010L515,1237Z" fill="#1a1a1a" transform="translate(156.26,104.7) scale(0.004102,-0.004102)"/>
<text x="160.93" y="104.7" font-size="8.4" fill="#1a1a1a">0</text>
<path d="M515,0L696,0L696,1409L530,1409L197,1180L197,1010L515,1237Z" fill="#1a1a1a" transform="translate(165.8,99.3) scale(0.002686,-0.002686)"/>
<text x="0" y="0" font-size="9.3" text-anchor="middle" fill="#1a1a1a" transform="translate(151.2,67.2) rotate(-90)">α (arb. units)</text>
<path d="M515,0L696,0L696,1409L530,1409L197,1180L197,1010L515,1237Z" fill="#1a1a1a" transform="translate(276.8,24.9) scale(0.004639,-0.004639)"/>
<text x="282.08" y="24.9" font-size="9.5" fill="#1a1a1a">.2</text>
<path d="M515,0L696,0L696,1409L530,1409L197,1180L197,1010L515,1237Z" fill="#1a1a1a" transform="translate(276.8,54.4) scale(0.004639,-0.004639)"/>
<text x="282.08" y="54.4" font-size="9.5" fill="#1a1a1a">.0</text>
<text x="276.8" y="83.9" font-size="9.5" fill="#1a1a1a">0.8</text>
<text x="276.8" y="113.4" font-size="9.5" fill="#1a1a1a">0.6</text>
<text x="0" y="0" font-size="9.3" text-anchor="middle" fill="#1a1a1a" transform="translate(301,65.3) rotate(-90)"><tspan font-style="italic">k</tspan> (nm)</text>
<polyline points="395.48,33.1 433.64,131.9 471.79,32.3 509.95,146.2 548.11,32.8 586.26,182.8 624.42,34.4" fill="none" stroke="#d42229" stroke-width="1.3"/>
<polyline points="395.48,24 433.64,90.2 471.79,20.5 509.95,116.7 548.11,24.4 586.26,127.9 624.42,25.6" fill="none" stroke="#111" stroke-width="1.4"/>
<circle cx="395.48" cy="24" r="3.6" fill="#111"/>
<circle cx="433.64" cy="90.2" r="3.6" fill="#111"/>
<circle cx="471.79" cy="20.5" r="3.6" fill="#111"/>
<circle cx="509.95" cy="116.7" r="3.6" fill="#111"/>
<circle cx="548.11" cy="24.4" r="3.6" fill="#111"/>
<circle cx="586.26" cy="127.9" r="3.6" fill="#111"/>
<circle cx="624.42" cy="25.6" r="3.6" fill="#111"/>
<line x1="395.48" y1="20.4" x2="395.48" y2="44.3" stroke="#d42229" stroke-width="1.2" />
<line x1="391.98" y1="20.4" x2="398.98" y2="20.4" stroke="#d42229" stroke-width="1.2" />
<line x1="391.98" y1="44.3" x2="398.98" y2="44.3" stroke="#d42229" stroke-width="1.2" />
<line x1="433.64" y1="119.6" x2="433.64" y2="144.2" stroke="#d42229" stroke-width="1.2" />
<line x1="430.14" y1="119.6" x2="437.14" y2="119.6" stroke="#d42229" stroke-width="1.2" />
<line x1="430.14" y1="144.2" x2="437.14" y2="144.2" stroke="#d42229" stroke-width="1.2" />
<line x1="471.79" y1="18.4" x2="471.79" y2="44" stroke="#d42229" stroke-width="1.2" />
<line x1="468.29" y1="18.4" x2="475.29" y2="18.4" stroke="#d42229" stroke-width="1.2" />
<line x1="468.29" y1="44" x2="475.29" y2="44" stroke="#d42229" stroke-width="1.2" />
<line x1="509.95" y1="132.6" x2="509.95" y2="159.5" stroke="#d42229" stroke-width="1.2" />
<line x1="506.45" y1="132.6" x2="513.45" y2="132.6" stroke="#d42229" stroke-width="1.2" />
<line x1="506.45" y1="159.5" x2="513.45" y2="159.5" stroke="#d42229" stroke-width="1.2" />
<line x1="548.11" y1="20" x2="548.11" y2="44" stroke="#d42229" stroke-width="1.2" />
<line x1="544.61" y1="20" x2="551.61" y2="20" stroke="#d42229" stroke-width="1.2" />
<line x1="544.61" y1="44" x2="551.61" y2="44" stroke="#d42229" stroke-width="1.2" />
<line x1="586.26" y1="169.5" x2="586.26" y2="194.6" stroke="#d42229" stroke-width="1.2" />
<line x1="582.76" y1="169.5" x2="589.76" y2="169.5" stroke="#d42229" stroke-width="1.2" />
<line x1="582.76" y1="194.6" x2="589.76" y2="194.6" stroke="#d42229" stroke-width="1.2" />
<line x1="624.42" y1="22.7" x2="624.42" y2="46.8" stroke="#d42229" stroke-width="1.2" />
<line x1="620.92" y1="22.7" x2="627.92" y2="22.7" stroke="#d42229" stroke-width="1.2" />
<line x1="620.92" y1="46.8" x2="627.92" y2="46.8" stroke="#d42229" stroke-width="1.2" />
<line x1="433.64" y1="107.6" x2="433.64" y2="132" stroke="#808080" stroke-width="1.2" />
<line x1="430.14" y1="107.6" x2="437.14" y2="107.6" stroke="#808080" stroke-width="1.2" />
<line x1="430.14" y1="132" x2="437.14" y2="132" stroke="#808080" stroke-width="1.2" />
<line x1="509.95" y1="146.8" x2="509.95" y2="171.2" stroke="#808080" stroke-width="1.2" />
<line x1="506.45" y1="146.8" x2="513.45" y2="146.8" stroke="#808080" stroke-width="1.2" />
<line x1="506.45" y1="171.2" x2="513.45" y2="171.2" stroke="#808080" stroke-width="1.2" />
<line x1="586.26" y1="163.6" x2="586.26" y2="188.2" stroke="#808080" stroke-width="1.2" />
<line x1="582.76" y1="163.6" x2="589.76" y2="163.6" stroke="#808080" stroke-width="1.2" />
<line x1="582.76" y1="188.2" x2="589.76" y2="188.2" stroke="#808080" stroke-width="1.2" />
<path d="M395.48,27.9 L400.68,33.1 L395.48,38.3 L390.28,33.1 Z" fill="#d42229"/>
<path d="M433.64,126.7 L438.84,131.9 L433.64,137.1 L428.44,131.9 Z" fill="#d42229"/>
<path d="M471.79,27.1 L476.99,32.3 L471.79,37.5 L466.59,32.3 Z" fill="#d42229"/>
<path d="M509.95,141 L515.15,146.2 L509.95,151.4 L504.75,146.2 Z" fill="#d42229"/>
<path d="M548.11,27.6 L553.31,32.8 L548.11,38 L542.91,32.8 Z" fill="#d42229"/>
<path d="M586.26,177.6 L591.46,182.8 L586.26,188 L581.06,182.8 Z" fill="#d42229"/>
<path d="M624.42,29.2 L629.62,34.4 L624.42,39.6 L619.22,34.4 Z" fill="#d42229"/>
<polygon points="433.64,114 435.11,117.78 439.15,118.01 436.01,120.57 437.04,124.49 433.64,122.3 430.23,124.49 431.26,120.57 428.12,118.01 432.17,117.78" fill="#808080"/>
<polygon points="509.95,153.2 511.42,156.98 515.47,157.21 512.33,159.77 513.36,163.69 509.95,161.5 506.54,163.69 507.57,159.77 504.43,157.21 508.48,156.98" fill="#808080"/>
<polygon points="586.26,170.1 587.73,173.88 591.78,174.11 588.64,176.67 589.67,180.59 586.26,178.4 582.86,180.59 583.89,176.67 580.75,174.11 584.79,173.88" fill="#808080"/>
<rect x="376.4" y="13.6" width="267.1" height="200.5" fill="none" stroke="#1a1a1a" stroke-width="1.1"/>
<line x1="380.22" y1="214.1" x2="380.22" y2="211.1" stroke="#1a1a1a" stroke-width="1" />
<line x1="380.22" y1="13.6" x2="380.22" y2="16.6" stroke="#1a1a1a" stroke-width="1" />
<line x1="387.85" y1="214.1" x2="387.85" y2="211.1" stroke="#1a1a1a" stroke-width="1" />
<line x1="387.85" y1="13.6" x2="387.85" y2="16.6" stroke="#1a1a1a" stroke-width="1" />
<line x1="395.48" y1="214.1" x2="395.48" y2="209.6" stroke="#1a1a1a" stroke-width="1" />
<line x1="395.48" y1="13.6" x2="395.48" y2="18.1" stroke="#1a1a1a" stroke-width="1" />
<line x1="403.11" y1="214.1" x2="403.11" y2="211.1" stroke="#1a1a1a" stroke-width="1" />
<line x1="403.11" y1="13.6" x2="403.11" y2="16.6" stroke="#1a1a1a" stroke-width="1" />
<line x1="410.74" y1="214.1" x2="410.74" y2="211.1" stroke="#1a1a1a" stroke-width="1" />
<line x1="410.74" y1="13.6" x2="410.74" y2="16.6" stroke="#1a1a1a" stroke-width="1" />
<line x1="418.37" y1="214.1" x2="418.37" y2="211.1" stroke="#1a1a1a" stroke-width="1" />
<line x1="418.37" y1="13.6" x2="418.37" y2="16.6" stroke="#1a1a1a" stroke-width="1" />
<line x1="426" y1="214.1" x2="426" y2="211.1" stroke="#1a1a1a" stroke-width="1" />
<line x1="426" y1="13.6" x2="426" y2="16.6" stroke="#1a1a1a" stroke-width="1" />
<line x1="433.64" y1="214.1" x2="433.64" y2="209.6" stroke="#1a1a1a" stroke-width="1" />
<line x1="433.64" y1="13.6" x2="433.64" y2="18.1" stroke="#1a1a1a" stroke-width="1" />
<line x1="441.27" y1="214.1" x2="441.27" y2="211.1" stroke="#1a1a1a" stroke-width="1" />
<line x1="441.27" y1="13.6" x2="441.27" y2="16.6" stroke="#1a1a1a" stroke-width="1" />
<line x1="448.9" y1="214.1" x2="448.9" y2="211.1" stroke="#1a1a1a" stroke-width="1" />
<line x1="448.9" y1="13.6" x2="448.9" y2="16.6" stroke="#1a1a1a" stroke-width="1" />
<line x1="456.53" y1="214.1" x2="456.53" y2="211.1" stroke="#1a1a1a" stroke-width="1" />
<line x1="456.53" y1="13.6" x2="456.53" y2="16.6" stroke="#1a1a1a" stroke-width="1" />
<line x1="464.16" y1="214.1" x2="464.16" y2="211.1" stroke="#1a1a1a" stroke-width="1" />
<line x1="464.16" y1="13.6" x2="464.16" y2="16.6" stroke="#1a1a1a" stroke-width="1" />
<line x1="471.79" y1="214.1" x2="471.79" y2="209.6" stroke="#1a1a1a" stroke-width="1" />
<line x1="471.79" y1="13.6" x2="471.79" y2="18.1" stroke="#1a1a1a" stroke-width="1" />
<line x1="479.42" y1="214.1" x2="479.42" y2="211.1" stroke="#1a1a1a" stroke-width="1" />
<line x1="479.42" y1="13.6" x2="479.42" y2="16.6" stroke="#1a1a1a" stroke-width="1" />
<line x1="487.06" y1="214.1" x2="487.06" y2="211.1" stroke="#1a1a1a" stroke-width="1" />
<line x1="487.06" y1="13.6" x2="487.06" y2="16.6" stroke="#1a1a1a" stroke-width="1" />
<line x1="494.69" y1="214.1" x2="494.69" y2="211.1" stroke="#1a1a1a" stroke-width="1" />
<line x1="494.69" y1="13.6" x2="494.69" y2="16.6" stroke="#1a1a1a" stroke-width="1" />
<line x1="502.32" y1="214.1" x2="502.32" y2="211.1" stroke="#1a1a1a" stroke-width="1" />
<line x1="502.32" y1="13.6" x2="502.32" y2="16.6" stroke="#1a1a1a" stroke-width="1" />
<line x1="509.95" y1="214.1" x2="509.95" y2="209.6" stroke="#1a1a1a" stroke-width="1" />
<line x1="509.95" y1="13.6" x2="509.95" y2="18.1" stroke="#1a1a1a" stroke-width="1" />
<line x1="517.58" y1="214.1" x2="517.58" y2="211.1" stroke="#1a1a1a" stroke-width="1" />
<line x1="517.58" y1="13.6" x2="517.58" y2="16.6" stroke="#1a1a1a" stroke-width="1" />
<line x1="525.21" y1="214.1" x2="525.21" y2="211.1" stroke="#1a1a1a" stroke-width="1" />
<line x1="525.21" y1="13.6" x2="525.21" y2="16.6" stroke="#1a1a1a" stroke-width="1" />
<line x1="532.84" y1="214.1" x2="532.84" y2="211.1" stroke="#1a1a1a" stroke-width="1" />
<line x1="532.84" y1="13.6" x2="532.84" y2="16.6" stroke="#1a1a1a" stroke-width="1" />
<line x1="540.48" y1="214.1" x2="540.48" y2="211.1" stroke="#1a1a1a" stroke-width="1" />
<line x1="540.48" y1="13.6" x2="540.48" y2="16.6" stroke="#1a1a1a" stroke-width="1" />
<line x1="548.11" y1="214.1" x2="548.11" y2="209.6" stroke="#1a1a1a" stroke-width="1" />
<line x1="548.11" y1="13.6" x2="548.11" y2="18.1" stroke="#1a1a1a" stroke-width="1" />
<line x1="555.74" y1="214.1" x2="555.74" y2="211.1" stroke="#1a1a1a" stroke-width="1" />
<line x1="555.74" y1="13.6" x2="555.74" y2="16.6" stroke="#1a1a1a" stroke-width="1" />
<line x1="563.37" y1="214.1" x2="563.37" y2="211.1" stroke="#1a1a1a" stroke-width="1" />
<line x1="563.37" y1="13.6" x2="563.37" y2="16.6" stroke="#1a1a1a" stroke-width="1" />
<line x1="571" y1="214.1" x2="571" y2="211.1" stroke="#1a1a1a" stroke-width="1" />
<line x1="571" y1="13.6" x2="571" y2="16.6" stroke="#1a1a1a" stroke-width="1" />
<line x1="578.63" y1="214.1" x2="578.63" y2="211.1" stroke="#1a1a1a" stroke-width="1" />
<line x1="578.63" y1="13.6" x2="578.63" y2="16.6" stroke="#1a1a1a" stroke-width="1" />
<line x1="586.26" y1="214.1" x2="586.26" y2="209.6" stroke="#1a1a1a" stroke-width="1" />
<line x1="586.26" y1="13.6" x2="586.26" y2="18.1" stroke="#1a1a1a" stroke-width="1" />
<line x1="593.9" y1="214.1" x2="593.9" y2="211.1" stroke="#1a1a1a" stroke-width="1" />
<line x1="593.9" y1="13.6" x2="593.9" y2="16.6" stroke="#1a1a1a" stroke-width="1" />
<line x1="601.53" y1="214.1" x2="601.53" y2="211.1" stroke="#1a1a1a" stroke-width="1" />
<line x1="601.53" y1="13.6" x2="601.53" y2="16.6" stroke="#1a1a1a" stroke-width="1" />
<line x1="609.16" y1="214.1" x2="609.16" y2="211.1" stroke="#1a1a1a" stroke-width="1" />
<line x1="609.16" y1="13.6" x2="609.16" y2="16.6" stroke="#1a1a1a" stroke-width="1" />
<line x1="616.79" y1="214.1" x2="616.79" y2="211.1" stroke="#1a1a1a" stroke-width="1" />
<line x1="616.79" y1="13.6" x2="616.79" y2="16.6" stroke="#1a1a1a" stroke-width="1" />
<line x1="624.42" y1="214.1" x2="624.42" y2="209.6" stroke="#1a1a1a" stroke-width="1" />
<line x1="624.42" y1="13.6" x2="624.42" y2="18.1" stroke="#1a1a1a" stroke-width="1" />
<line x1="632.05" y1="214.1" x2="632.05" y2="211.1" stroke="#1a1a1a" stroke-width="1" />
<line x1="632.05" y1="13.6" x2="632.05" y2="16.6" stroke="#1a1a1a" stroke-width="1" />
<line x1="639.68" y1="214.1" x2="639.68" y2="211.1" stroke="#1a1a1a" stroke-width="1" />
<line x1="639.68" y1="13.6" x2="639.68" y2="16.6" stroke="#1a1a1a" stroke-width="1" />
<line x1="376.4" y1="214.1" x2="380.9" y2="214.1" stroke="#1a1a1a" stroke-width="1" />
<line x1="376.4" y1="190.83" x2="379.4" y2="190.83" stroke="#1a1a1a" stroke-width="1" />
<line x1="376.4" y1="177.22" x2="379.4" y2="177.22" stroke="#1a1a1a" stroke-width="1" />
<line x1="376.4" y1="167.56" x2="379.4" y2="167.56" stroke="#1a1a1a" stroke-width="1" />
<line x1="376.4" y1="160.07" x2="379.4" y2="160.07" stroke="#1a1a1a" stroke-width="1" />
<line x1="376.4" y1="153.95" x2="379.4" y2="153.95" stroke="#1a1a1a" stroke-width="1" />
<line x1="376.4" y1="148.77" x2="379.4" y2="148.77" stroke="#1a1a1a" stroke-width="1" />
<line x1="376.4" y1="144.29" x2="379.4" y2="144.29" stroke="#1a1a1a" stroke-width="1" />
<line x1="376.4" y1="140.34" x2="379.4" y2="140.34" stroke="#1a1a1a" stroke-width="1" />
<line x1="376.4" y1="136.8" x2="380.9" y2="136.8" stroke="#1a1a1a" stroke-width="1" />
<line x1="376.4" y1="113.53" x2="379.4" y2="113.53" stroke="#1a1a1a" stroke-width="1" />
<line x1="376.4" y1="99.92" x2="379.4" y2="99.92" stroke="#1a1a1a" stroke-width="1" />
<line x1="376.4" y1="90.26" x2="379.4" y2="90.26" stroke="#1a1a1a" stroke-width="1" />
<line x1="376.4" y1="82.77" x2="379.4" y2="82.77" stroke="#1a1a1a" stroke-width="1" />
<line x1="376.4" y1="76.65" x2="379.4" y2="76.65" stroke="#1a1a1a" stroke-width="1" />
<line x1="376.4" y1="71.47" x2="379.4" y2="71.47" stroke="#1a1a1a" stroke-width="1" />
<line x1="376.4" y1="66.99" x2="379.4" y2="66.99" stroke="#1a1a1a" stroke-width="1" />
<line x1="376.4" y1="63.04" x2="379.4" y2="63.04" stroke="#1a1a1a" stroke-width="1" />
<line x1="376.4" y1="59.5" x2="380.9" y2="59.5" stroke="#1a1a1a" stroke-width="1" />
<line x1="376.4" y1="36.23" x2="379.4" y2="36.23" stroke="#1a1a1a" stroke-width="1" />
<line x1="376.4" y1="22.62" x2="379.4" y2="22.62" stroke="#1a1a1a" stroke-width="1" />
<line x1="643.5" y1="214.1" x2="639" y2="214.1" stroke="#1a1a1a" stroke-width="1" />
<line x1="643.5" y1="189.04" x2="639" y2="189.04" stroke="#1a1a1a" stroke-width="1" />
<line x1="643.5" y1="163.97" x2="639" y2="163.97" stroke="#1a1a1a" stroke-width="1" />
<line x1="643.5" y1="138.91" x2="639" y2="138.91" stroke="#1a1a1a" stroke-width="1" />
<line x1="643.5" y1="113.85" x2="639" y2="113.85" stroke="#1a1a1a" stroke-width="1" />
<line x1="643.5" y1="88.79" x2="639" y2="88.79" stroke="#1a1a1a" stroke-width="1" />
<line x1="643.5" y1="63.72" x2="639" y2="63.72" stroke="#1a1a1a" stroke-width="1" />
<line x1="643.5" y1="38.66" x2="639" y2="38.66" stroke="#1a1a1a" stroke-width="1" />
<line x1="643.5" y1="13.6" x2="639" y2="13.6" stroke="#1a1a1a" stroke-width="1" />
<path d="M515,0L696,0L696,1409L530,1409L197,1180L197,1010L515,1237Z" fill="#1a1a1a" transform="translate(392.14,229.4) scale(0.005859,-0.005859)"/>
<text x="430.3" y="229.4" font-size="12" fill="#1a1a1a">2</text>
<text x="468.46" y="229.4" font-size="12" fill="#1a1a1a">3</text>
<text x="506.61" y="229.4" font-size="12" fill="#1a1a1a">4</text>
<text x="544.77" y="229.4" font-size="12" fill="#1a1a1a">5</text>
<text x="582.93" y="229.4" font-size="12" fill="#1a1a1a">6</text>
<text x="621.09" y="229.4" font-size="12" fill="#1a1a1a">7</text>
<text x="508.5" y="247.8" font-size="12.8" text-anchor="middle" fill="#1a1a1a" >Cycle (<tspan font-style="italic">#</tspan>)</text>
<path d="M515,0L696,0L696,1409L530,1409L197,1180L197,1010L515,1237Z" fill="#1a1a1a" transform="translate(352.06,219) scale(0.005859,-0.005859)"/>
<text x="358.73" y="219" font-size="12" fill="#1a1a1a">0</text>
<text x="366.3" y="214" font-size="8.5" fill="#1a1a1a">3</text>
<path d="M515,0L696,0L696,1409L530,1409L197,1180L197,1010L515,1237Z" fill="#1a1a1a" transform="translate(352.06,141.7) scale(0.005859,-0.005859)"/>
<text x="358.73" y="141.7" font-size="12" fill="#1a1a1a">0</text>
<text x="366.3" y="136.7" font-size="8.5" fill="#1a1a1a">4</text>
<path d="M515,0L696,0L696,1409L530,1409L197,1180L197,1010L515,1237Z" fill="#1a1a1a" transform="translate(352.06,64.4) scale(0.005859,-0.005859)"/>
<text x="358.73" y="64.4" font-size="12" fill="#1a1a1a">0</text>
<text x="366.3" y="59.4" font-size="8.5" fill="#1a1a1a">5</text>
<path d="M515,0L696,0L696,1409L530,1409L197,1180L197,1010L515,1237Z" fill="#1a1a1a" transform="translate(648.6,218.4) scale(0.005859,-0.005859)"/>
<text x="655.27" y="218.4" font-size="12" fill="#1a1a1a">0</text>
<path d="M515,0L696,0L696,1409L530,1409L197,1180L197,1010L515,1237Z" fill="#1a1a1a" transform="translate(648.6,193.34) scale(0.005859,-0.005859)"/>
<path d="M515,0L696,0L696,1409L530,1409L197,1180L197,1010L515,1237Z" fill="#1a1a1a" transform="translate(655.27,193.34) scale(0.005859,-0.005859)"/>
<path d="M515,0L696,0L696,1409L530,1409L197,1180L197,1010L515,1237Z" fill="#1a1a1a" transform="translate(648.6,168.28) scale(0.005859,-0.005859)"/>
<text x="655.27" y="168.28" font-size="12" fill="#1a1a1a">2</text>
<path d="M515,0L696,0L696,1409L530,1409L197,1180L197,1010L515,1237Z" fill="#1a1a1a" transform="translate(648.6,143.21) scale(0.005859,-0.005859)"/>
<text x="655.27" y="143.21" font-size="12" fill="#1a1a1a">3</text>
<path d="M515,0L696,0L696,1409L530,1409L197,1180L197,1010L515,1237Z" fill="#1a1a1a" transform="translate(648.6,118.15) scale(0.005859,-0.005859)"/>
<text x="655.27" y="118.15" font-size="12" fill="#1a1a1a">4</text>
<path d="M515,0L696,0L696,1409L530,1409L197,1180L197,1010L515,1237Z" fill="#1a1a1a" transform="translate(648.6,93.09) scale(0.005859,-0.005859)"/>
<text x="655.27" y="93.09" font-size="12" fill="#1a1a1a">5</text>
<path d="M515,0L696,0L696,1409L530,1409L197,1180L197,1010L515,1237Z" fill="#1a1a1a" transform="translate(648.6,68.02) scale(0.005859,-0.005859)"/>
<text x="655.27" y="68.02" font-size="12" fill="#1a1a1a">6</text>
<path d="M515,0L696,0L696,1409L530,1409L197,1180L197,1010L515,1237Z" fill="#1a1a1a" transform="translate(648.6,42.96) scale(0.005859,-0.005859)"/>
<text x="655.27" y="42.96" font-size="12" fill="#1a1a1a">7</text>
<path d="M515,0L696,0L696,1409L530,1409L197,1180L197,1010L515,1237Z" fill="#1a1a1a" transform="translate(648.6,17.9) scale(0.005859,-0.005859)"/>
<text x="655.27" y="17.9" font-size="12" fill="#1a1a1a">8</text>
<text x="0" y="0" font-size="12.5" text-anchor="middle" fill="#1a1a1a" transform="translate(342.6,107.1) rotate(-90)">Resistance (Ω)</text>
<text x="0" y="0" font-size="12.5" text-anchor="middle" fill="#1a1a1a" transform="translate(679.2,110.2) rotate(-90)"><tspan font-style="italic">H</tspan><tspan font-size="9" dy="2.5">C</tspan><tspan dy="-2.5"> (Oe)</tspan></text>
<line x1="390.3" y1="162.6" x2="408" y2="162.6" stroke="#111" stroke-width="1.8" />
<circle cx="390.3" cy="162.6" r="3.6" fill="#111"/>
<circle cx="408" cy="162.6" r="3.6" fill="#111"/>
<line x1="390.9" y1="179.7" x2="407.3" y2="179.7" stroke="#d42229" stroke-width="1.8" />
<path d="M390.9,174.5 L396.1,179.7 L390.9,184.9 L385.7,179.7 Z" fill="#d42229"/>
<path d="M407.3,174.5 L412.5,179.7 L407.3,184.9 L402.1,179.7 Z" fill="#d42229"/>
<polygon points="399.4,192.4 400.87,196.18 404.92,196.41 401.78,198.97 402.81,202.89 399.4,200.7 395.99,202.89 397.02,198.97 393.88,196.41 397.93,196.18" fill="#808080"/>
<text x="417.9" y="166.9" font-size="12.5" text-anchor="start" fill="#1a1a1a" letter-spacing="0.25">Resistance</text>
<text x="418.3" y="183.2" font-size="12.5" text-anchor="start" fill="#1a1a1a" ><tspan font-style="italic">H</tspan><tspan font-size="9" dy="2.8">C</tspan></text>
<text x="417.4" y="202.6" font-size="12.5" text-anchor="start" fill="#1a1a1a" letter-spacing="0.2">Calculated <tspan font-style="italic">H</tspan><tspan font-size="9" dy="2.8">C</tspan></text>
<text x="0.4" y="13.6" font-size="17.8" text-anchor="start" fill="#000" font-weight="bold">c</text>
<text x="332.1" y="13.4" font-size="17.5" text-anchor="start" fill="#000" font-weight="bold">d</text>
</svg>
</body></html>
